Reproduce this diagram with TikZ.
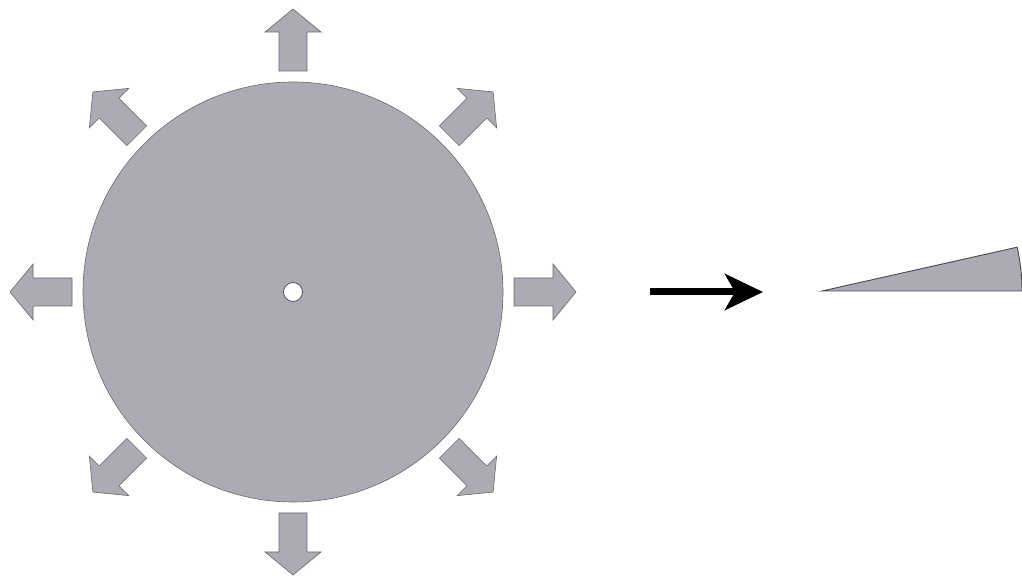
\documentclass[tikz,border=0pt]{standalone}
\usepackage{tikz}
\usetikzlibrary{arrows.meta,calc}
\definecolor{DiskGray}{RGB}{172,171,180}
\definecolor{EdgeGray}{RGB}{105,105,112}

\begin{document}
\begin{tikzpicture}[x=1pt, y=1pt,
    diskpart/.style={fill=DiskGray, draw=EdgeGray, line width=0.6pt},
    flowarrow/.style={diskpart, line join=miter}]
    \useasboundingbox (0,0) rectangle (1022,577);

    % Centre of the disk
    \coordinate (ctr) at (293,285);

    % The disk with its hole
    \filldraw[diskpart] (ctr) circle (210pt);
    \filldraw[fill=white, draw=EdgeGray!80!black, line width=0.8pt] (ctr) circle (9.5pt);

    % Outward arrows (radial flow)
    \foreach \ang in {0,45,...,315} {
        \begin{scope}[shift={(ctr)}, rotate=\ang]
            \filldraw[flowarrow] (221,-14) -- (260,-14) -- (260,-28) -- (283,0)
                -- (260,28) -- (260,14) -- (221,14) -- cycle;
        \end{scope}
    }

    % Reduction arrow
    \coordinate (from) at (650,285);
    \coordinate (to)   at (763,285);
    \draw[line width=7pt, -{Stealth[length=38pt, width=36pt, inset=10pt]}] (from) -- (to);

    % The wedge (sector of the disk)
    \coordinate (tip) at (822,286);
    \filldraw[diskpart, draw=EdgeGray!70!black, line width=0.9pt] (tip) -- ++(200,0) arc[start angle=0, end angle=12.65, radius=200pt] -- cycle;
\end{tikzpicture}
\end{document}
